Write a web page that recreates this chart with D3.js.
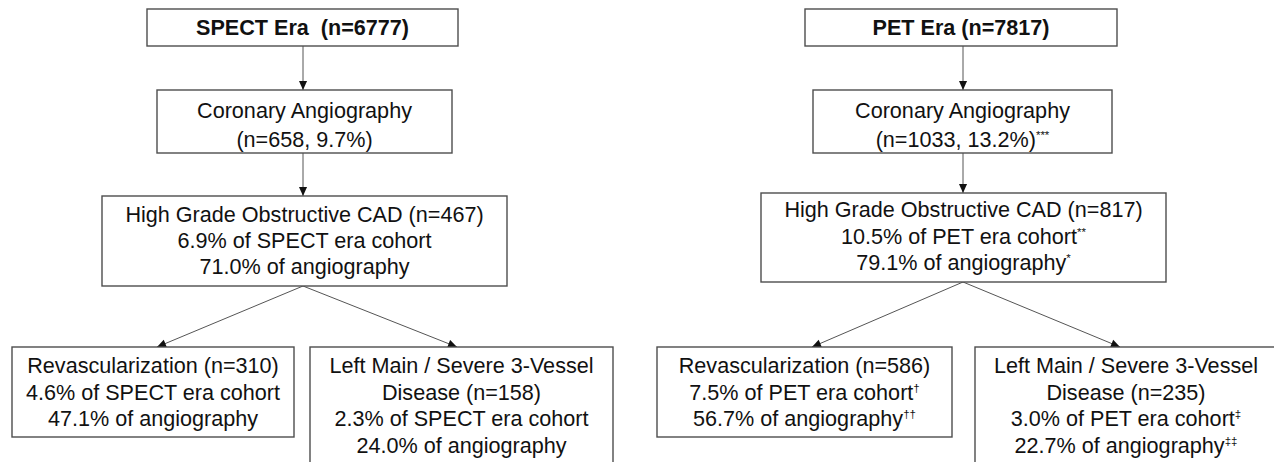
<!DOCTYPE html>
<html lang="en">
<head>
    <meta charset="UTF-8">
    <title>SPECT vs PET era flow</title>
    <script src="https://cdnjs.cloudflare.com/ajax/libs/d3/7.8.5/d3.min.js"></script>
    <style type="text/css">
        body { margin: 0; background: #fff; }
        svg { display: block; }
        .box { fill: #fff; stroke: #4d4d4d; stroke-width: 1.4px; }
        .arrow { stroke: #555; stroke-width: 1px; fill: none; }
        text { font-family: "Liberation Sans", Arial, sans-serif; font-size: 21.6px; fill: #111; white-space: pre; }
        .bold { font-weight: bold; }
    </style>
</head>
<body>
<div id="chart"></div>
<script type="text/javascript">
    // text after "^" is drawn as superscript
    const eras = ["SPECT", "PET"];
    const cohortLabels = ["SPECT Era  (n=6777)", "PET Era (n=7817)"];
    const angioLabels = [
        ["Coronary Angiography", "(n=658, 9.7%)"],
        ["Coronary Angiography", "(n=1033, 13.2%)^***"]
    ];
    const cadLabels = [
        ["High Grade Obstructive CAD (n=467)", "6.9% of SPECT era cohort", "71.0% of angiography"],
        ["High Grade Obstructive CAD (n=817)", "10.5% of PET era cohort^**", "79.1% of angiography^*"]
    ];
    const revascLabels = [
        ["Revascularization (n=310)", "4.6% of SPECT era cohort", "47.1% of angiography"],
        ["Revascularization (n=586)", "7.5% of PET era cohort^\u2020", "56.7% of angiography^\u2020\u2020"]
    ];
    const leftMainLabels = [
        ["Left Main / Severe 3-Vessel", "Disease (n=158)", "2.3% of SPECT era cohort", "24.0% of angiography"],
        ["Left Main / Severe 3-Vessel", "Disease (n=235)", "3.0% of PET era cohort^\u2021", "22.7% of angiography^\u2021\u2021"]
    ];

    // layout: [x, y, w, h, first baseline, line height] per era and level
    const layout = {
        SPECT: [[147, 9, 311, 37, 26, 0], [157, 90, 295, 63, 28, 29], [102, 196, 405, 90, 26, 26],
                [12, 347, 282, 90, 26, 26.5], [310, 347, 303, 140, 26, 26.5]],
        PET:   [[805, 9, 312, 37, 26, 0], [813, 90, 299, 63, 28, 29], [761, 193, 405, 89, 24, 26.5],
                [657, 347, 295, 90, 26, 26.5], [975, 347, 302, 140, 26, 26.5]]
    };
    // arrows: from level, to level, start x, end x
    const links = {
        SPECT: [[0, 1, 303, 303], [1, 2, 303, 303], [2, 3, 303, 157], [2, 4, 303, 457]],
        PET:   [[0, 1, 963, 963], [1, 2, 963, 963], [2, 3, 963, 812], [2, 4, 963, 1120]]
    };

    const width = 1274, height = 462;
    const svg = d3.select("#chart").append("svg")
        .attr("width", width)
        .attr("height", height);

    svg.append("defs").append("marker")
        .attr("id", "head")
        .attr("viewBox", "0 -5 10 10")
        .attr("refX", 10)
        .attr("refY", 0)
        .attr("orient", "auto")
        .attr("markerUnits", "userSpaceOnUse")
        .attr("markerWidth", 10)
        .attr("markerHeight", 9)
        .append("path")
        .attr("d", "M0,-4.5L10,0L0,4.5Z")
        .attr("fill", "#111");

    eras.forEach(function (era, i) {
        const boxes = [[cohortLabels[i]], angioLabels[i], cadLabels[i], revascLabels[i], leftMainLabels[i]]
            .map((lines, level) => ({lines: lines, level: level, g: layout[era][level]}));

        const g = svg.append("g").attr("class", "era-" + era);

        g.selectAll(".arrow")
            .data(links[era])
            .enter()
            .append("line")
            .attr("class", "arrow")
            .attr("x1", d => d[2])
            .attr("y1", d => layout[era][d[0]][1] + layout[era][d[0]][3])
            .attr("x2", d => d[3])
            .attr("y2", d => layout[era][d[1]][1])
            .attr("marker-end", "url(#head)");

        const node = g.selectAll(".node")
            .data(boxes)
            .enter()
            .append("g")
            .attr("class", "node")
            .attr("transform", d => `translate(${d.g[0]},${d.g[1]})`);

        node.append("rect")
            .attr("class", "box")
            .attr("width", d => d.g[2])
            .attr("height", d => d.g[3]);

        const label = node.append("text")
            .attr("text-anchor", "middle")
            .classed("bold", d => d.level === 0);

        label.selectAll("tspan.line")
            .data(d => d.lines.map((s, k) => ({s: s, k: k, g: d.g})))
            .enter()
            .append("tspan")
            .attr("class", "line")
            .attr("x", d => d.g[2] / 2)
            .attr("y", d => d.g[4] + d.k * d.g[5])
            .each(function (d) {
                const parts = d.s.split("^");
                const t = d3.select(this);
                t.append("tspan").text(parts[0]);
                if (parts[1]) {
                    t.append("tspan")
                        .attr("dy", -8)
                        .style("font-size", "11.5px")
                        .text(parts[1]);
                }
            });
    });
</script>
</body>
</html>
